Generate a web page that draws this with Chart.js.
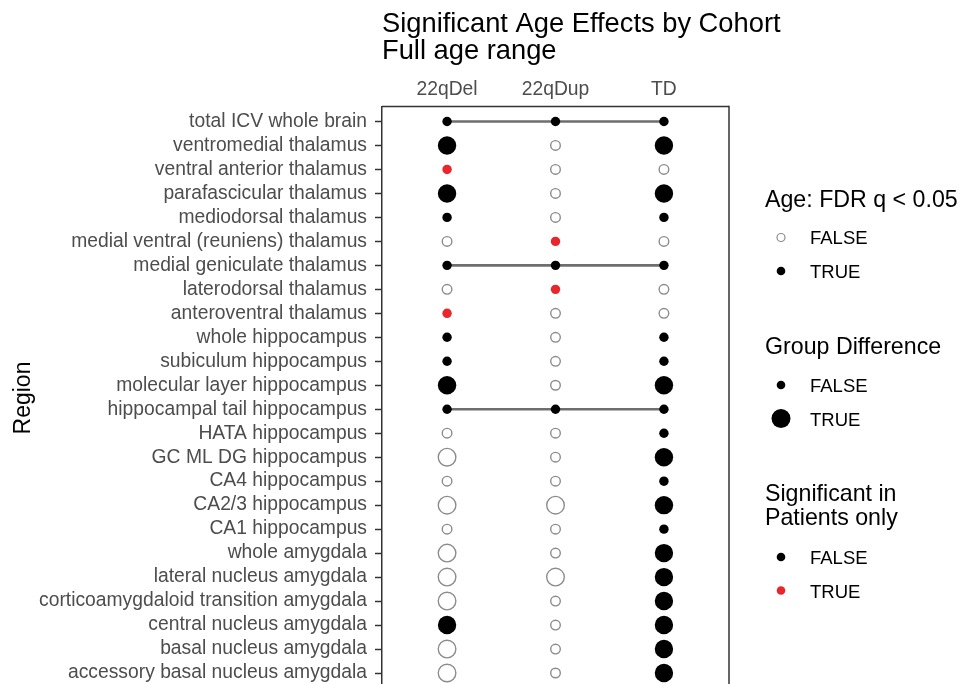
<!DOCTYPE html>
<html><head><meta charset="utf-8">
<script src="https://cdn.jsdelivr.net/npm/chart.js@4"></script>
<style>html,body{margin:0;padding:0;overflow:hidden;background:#fff}#wrap{width:960px;height:700px}</style>
</head><body><div id="wrap"><canvas id="c" width="960" height="700"></canvas></div>
<script>
const regions = [
  'total ICV whole brain','ventromedial thalamus','ventral anterior thalamus','parafascicular thalamus',
  'mediodorsal thalamus','medial ventral (reuniens) thalamus','medial geniculate thalamus','laterodorsal thalamus',
  'anteroventral thalamus','whole hippocampus','subiculum hippocampus','molecular layer hippocampus',
  'hippocampal tail hippocampus','HATA hippocampus','GC ML DG hippocampus','CA4 hippocampus',
  'CA2/3 hippocampus','CA1 hippocampus','whole amygdala','lateral nucleus amygdala',
  'corticoamygdaloid transition amygdala','central nucleus amygdala','basal nucleus amygdala','accessory basal nucleus amygdala'
];
const cohorts = ['22qDel','22qDup','TD'];
// Age: FDR q < 0.05 (1 = TRUE)
const ageSig22qDel = [1,1,1,1,1,0,1,0,1,1,1,1,1,0,0,0,0,0,0,0,0,1,0,0];
const ageSig22qDup = [1,0,0,0,0,1,1,1,0,0,0,0,1,0,0,0,0,0,0,0,0,0,0,0];
const ageSigTD     = [1,1,0,1,1,0,1,0,0,1,1,1,1,1,1,1,1,1,1,1,1,1,1,1];
// Group Difference (1 = TRUE)
const groupDiff22qDel = [0,1,0,1,0,0,0,0,0,0,0,1,0,0,1,0,1,0,1,1,1,1,1,1];
const groupDiff22qDup = [0,0,0,0,0,0,0,0,0,0,0,0,0,0,0,0,1,0,0,1,0,0,0,0];
const groupDiffTD     = [0,1,0,1,0,0,0,0,0,0,0,1,0,0,1,0,1,0,1,1,1,1,1,1];
// Significant in Patients only (1 = TRUE)
const patOnly22qDel = [0,0,1,0,0,0,0,0,1,0,0,0,0,0,0,0,0,0,0,0,0,0,0,0];
const patOnly22qDup = [0,0,0,0,0,1,0,1,0,0,0,0,0,0,0,0,0,0,0,0,0,0,0,0];
const patOnlyTD     = [0,0,0,0,0,0,0,0,0,0,0,0,0,0,0,0,0,0,0,0,0,0,0,0];

const ageSig = [ageSig22qDel, ageSig22qDup, ageSigTD];
const groupDiff = [groupDiff22qDel, groupDiff22qDup, groupDiffTD];
const patOnly = [patOnly22qDel, patOnly22qDup, patOnlyTD];

const FONT = '"Liberation Sans", Arial, Helvetica, sans-serif';
const RED = '#e8262b', GREY = '#8c8c8c', LINE = '#6e6e6e';

const pts = [], rad = [], bg = [], bc = [], bw = [];
cohorts.forEach((c, ci) => {
  regions.forEach((r, ri) => {
    pts.push({x: ci, y: ri});
    const a = ageSig[ci][ri], g = groupDiff[ci][ri], p = patOnly[ci][ri];
    if (a) {
      rad.push(g ? 9.2 : 4.7);
      bg.push(p ? RED : '#000'); bc.push(p ? RED : '#000'); bw.push(0);
    } else {
      rad.push(g ? 8.8 : 4.8);
      bg.push('#fff'); bc.push(GREY); bw.push(1.4);
    }
  });
});

const datasets = [];
regions.forEach((r, ri) => {
  if (ageSig.every(arr => arr[ri])) {
    datasets.push({type:'line', data: cohorts.map((c, ci) => ({x: ci, y: ri})),
      borderColor: LINE, borderWidth: 2.7, pointRadius: 0, order: 2, showLine: true});
  }
});
datasets.push({type:'scatter', data: pts, pointRadius: rad, pointHoverRadius: rad,
  pointBackgroundColor: bg, pointBorderColor: bc, pointBorderWidth: bw, order: 1});

const decor = {
  id: 'decor',
  afterDraw(chart) {
    const ctx = chart.ctx, a = chart.chartArea;
    ctx.save();
    ctx.strokeStyle = '#333'; ctx.lineWidth = 1.5;
    ctx.beginPath(); ctx.moveTo(a.right, a.top - 0.75); ctx.lineTo(a.right, a.bottom); ctx.stroke();
    ctx.beginPath(); ctx.moveTo(a.left, a.top); ctx.lineTo(a.right, a.top); ctx.stroke();
    // title
    ctx.fillStyle = '#000'; ctx.textAlign = 'left'; ctx.textBaseline = 'alphabetic';
    ctx.font = '27.3px ' + FONT;
    ctx.fillText('Significant Age Effects by Cohort', 382, 31.5);
    ctx.fillText('Full age range', 382, 59);
    // y axis title
    ctx.save(); ctx.translate(30, 398); ctx.rotate(-Math.PI/2);
    ctx.textAlign = 'center'; ctx.font = '23px ' + FONT; ctx.fillText('Region', 0, 0); ctx.restore();
    // legend
    const kx = 781, lx = 810;
    const dot = (y, r, fill, stroke) => {
      ctx.beginPath(); ctx.arc(kx, y, r, 0, Math.PI*2);
      if (fill) { ctx.fillStyle = fill; ctx.fill(); }
      if (stroke) { ctx.strokeStyle = stroke; ctx.lineWidth = 1.2; ctx.stroke(); }
    };
    const title = (t, y) => { ctx.fillStyle = '#000'; ctx.font = '23.2px ' + FONT; ctx.fillText(t, 765, y); };
    const lab = (t, y) => { ctx.fillStyle = '#000'; ctx.font = '18.5px ' + FONT; ctx.fillText(t, lx, y); };
    title('Age: FDR q < 0.05', 207);
    dot(237.5, 4, '#fff', GREY); lab('FALSE', 244);
    dot(271, 4.3, '#000'); lab('TRUE', 277.5);
    title('Group Difference', 354);
    dot(385, 4.3, '#000'); lab('FALSE', 392);
    dot(418.5, 9.5, '#000'); lab('TRUE', 425.5);
    title('Significant in', 500.5);
    title('Patients only', 525);
    dot(557, 4.3, '#000'); lab('FALSE', 564);
    dot(590.5, 4.3, RED); lab('TRUE', 597.5);
    ctx.restore();
  }
};

new Chart(document.getElementById('c'), {
  data: { datasets },
  options: {
    responsive: false, animation: false,
    layout: { padding: { left: 0, top: 0, right: 231, bottom: 12 } },
    plugins: { legend: { display: false }, tooltip: { enabled: false } },
    scales: {
      x: {
        type: 'linear', position: 'top', min: -0.6, max: 2.6,
        afterBuildTicks: s => { s.ticks = cohorts.map((c, i) => ({value: i})); },
        afterFit: s => { s.height = 106.5; s.paddingLeft = 0; s.paddingRight = 0; },
        ticks: { callback: v => cohorts[v], color: '#4d4d4d', font: { size: 19.3, family: FONT }, padding: 5, maxRotation: 0 },
        grid: { drawOnChartArea: false, drawTicks: false },
        border: { display: false }
      },
      y: {
        type: 'linear', reverse: true, min: -0.625, max: 23.625,
        afterBuildTicks: s => { s.ticks = regions.map((r, i) => ({value: i})); },
        afterFit: s => { s.width = 382; s.paddingTop = 0; s.paddingBottom = 0; },
        ticks: { callback: v => regions[v], color: '#4d4d4d', font: { size: 19.3, family: FONT }, padding: 8, autoSkip: false },
        grid: { drawOnChartArea: false, drawTicks: true, tickLength: 7, tickColor: '#333', tickWidth: 1.5 },
        border: { display: true, color: '#333', width: 1.5 }
      }
    }
  },
  plugins: [decor]
});
</script>
</body></html>
